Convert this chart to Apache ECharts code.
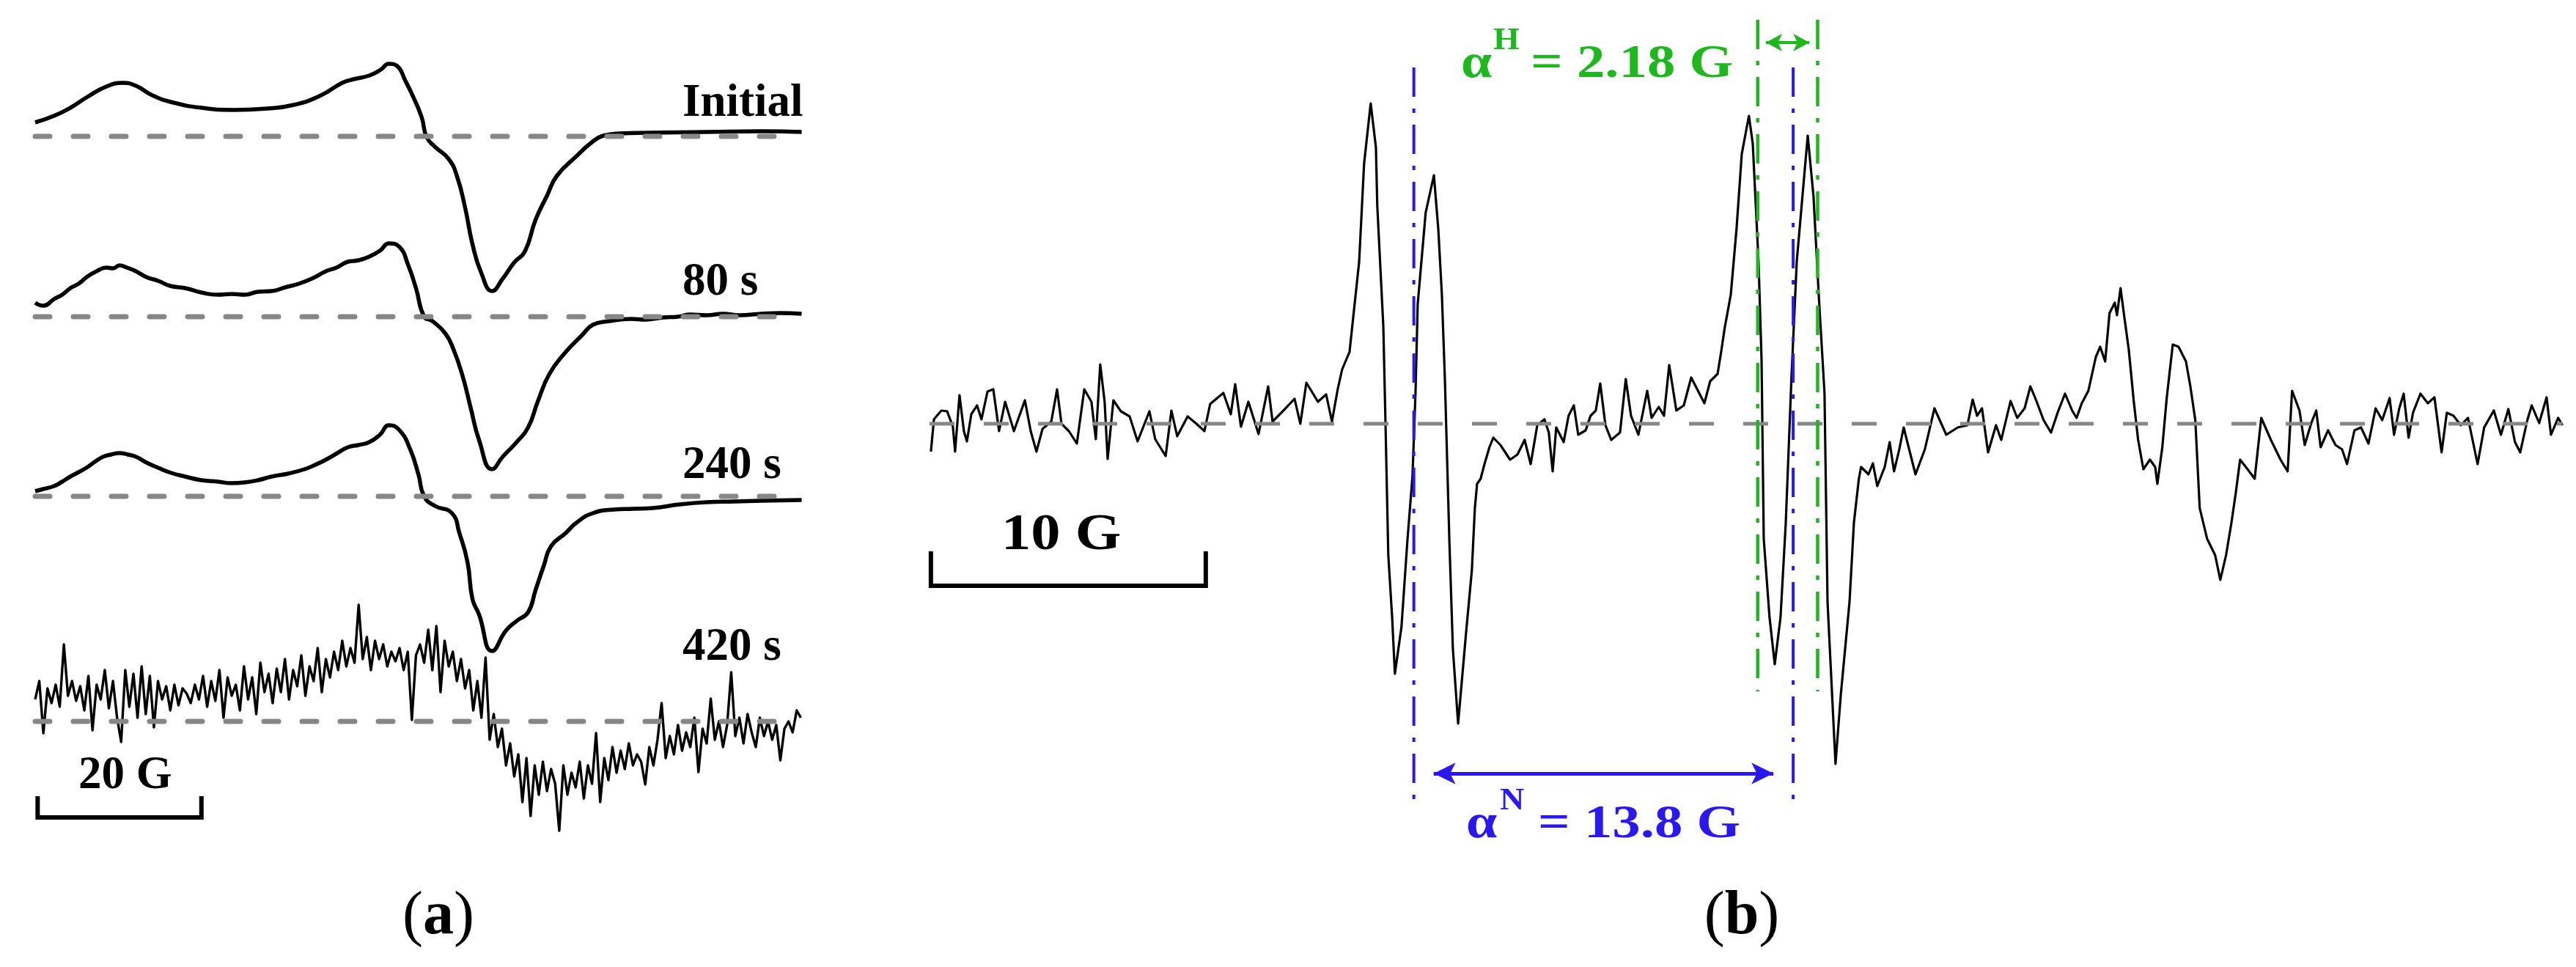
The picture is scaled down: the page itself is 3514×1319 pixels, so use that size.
<!DOCTYPE html>
<html><head><meta charset="utf-8">
<style>html,body{margin:0;padding:0;background:#fff}#c{width:3514px;height:1319px}</style>
<script src="https://cdn.jsdelivr.net/npm/echarts@6/dist/echarts.min.js"></script>
</head><body><div id="c"></div>
<script>
// ---- data (field in G, signal in a.u. relative to each trace's baseline) ----
const traceLabels = ['Initial', '80 s', '240 s', '420 s'];

const initialTrace = [[0,0.19],[2.3,0.28],[4.3,0.39],[6.4,0.54],[8.7,0.68],[10.7,0.73],[12.3,0.69],[14.3,0.56],[16.9,0.46],[20.3,0.39],[24.3,0.36],[28.3,0.38],[31.6,0.43],[34.9,0.56],[37.5,0.73],[38.9,0.78],[40.8,0.83],[42.2,0.91],[43.2,0.99],[44.2,0.96],[45.2,0.76],[46.2,0.53],[47.2,0.26],[47.8,-0.01],[48.8,-0.14],[50.5,-0.31],[51.5,-0.54],[52.5,-0.97],[53.4,-1.47],[54.5,-1.87],[55.8,-2.11],[57.1,-1.94],[58.5,-1.72],[59.8,-1.57],[61.1,-1.14],[62.5,-0.81],[63.7,-0.54],[66.1,-0.27],[68.1,-0.07],[69.4,0.01],[71.4,0.04],[75.4,0.05],[82.0,0.06],[88.7,0.07],[93.6,0.06]];

const trace80 = [[0,0.19],[1.0,0.15],[2.3,0.24],[3.3,0.30],[4.3,0.39],[5.3,0.45],[6.4,0.55],[7.5,0.62],[8.7,0.67],[9.5,0.66],[10.3,0.70],[11.2,0.67],[12.3,0.62],[13.6,0.54],[15.0,0.49],[16.5,0.42],[18.3,0.39],[20.3,0.33],[22.3,0.30],[24.0,0.31],[25.6,0.30],[27.2,0.34],[28.9,0.35],[30.5,0.40],[32.2,0.45],[33.8,0.52],[35.5,0.62],[36.8,0.67],[38.2,0.75],[39.5,0.77],[40.8,0.82],[42.1,0.90],[43.2,1.00],[44.5,0.95],[45.5,0.72],[46.5,0.39],[47.5,0.00],[48.5,-0.06],[50.1,-0.23],[51.1,-0.45],[52.2,-0.81],[53.2,-1.25],[54.2,-1.68],[55.8,-2.08],[57.1,-1.91],[58.8,-1.71],[60.2,-1.51],[61.4,-1.15],[62.8,-0.78],[64.8,-0.48],[66.8,-0.25],[68.1,-0.11],[70.1,-0.06],[72.8,-0.03],[74.5,-0.04],[76.7,-0.01],[78.5,0.00],[80.0,0.03],[82.0,0.02],[84.0,0.04],[86.0,0.02],[88.7,0.04],[91.0,0.05],[93.6,0.04]];

const trace240 = [[0,0.07],[1.0,0.10],[2.3,0.14],[3.3,0.20],[4.3,0.27],[5.3,0.33],[6.4,0.40],[7.4,0.48],[8.3,0.54],[9.3,0.57],[10.3,0.59],[11.3,0.57],[12.3,0.54],[13.6,0.46],[15.0,0.39],[16.6,0.32],[18.3,0.27],[20.3,0.22],[22.3,0.20],[24.0,0.18],[25.6,0.19],[27.2,0.22],[28.9,0.27],[30.9,0.31],[32.9,0.37],[34.2,0.43],[35.5,0.50],[36.9,0.59],[38.2,0.67],[39.5,0.70],[40.8,0.74],[42.1,0.84],[43.2,0.97],[44.5,0.90],[45.8,0.64],[46.8,0.30],[47.5,0.00],[48.8,-0.13],[50.9,-0.23],[51.8,-0.50],[52.8,-0.90],[53.4,-1.40],[54.2,-1.61],[55.8,-2.11],[57.5,-1.83],[58.8,-1.70],[60.2,-1.58],[61.1,-1.28],[62.1,-0.95],[63.0,-0.68],[64.8,-0.50],[66.1,-0.36],[68.1,-0.23],[70.7,-0.18],[73.0,-0.17],[75.4,-0.16],[78.7,-0.11],[82.0,-0.08],[85.5,-0.07],[88.7,-0.06],[93.6,-0.05]];

const trace420 = [[0,0.30],[0.5,0.55],[1,-0.16],[1.5,0.45],[2,0.25],[2.5,0.50],[3,0.20],[3.5,1.05],[4,0.35],[4.5,0.55],[5,0.28],[5.5,0.48],[6,0.15],[6.5,0.62],[7,-0.12],[7.5,0.50],[8,0.30],[8.5,0.70],[9,0.18],[9.5,0.55],[10,0.05],[10.5,-0.28],[11,0.70],[11.5,0.20],[12,0.65],[12.5,0.05],[13,0.75],[13.5,0.10],[14,0.62],[14.5,-0.08],[15,0.55],[15.5,0.30],[16,0.48],[16.5,0.15],[17,0.50],[17.5,0.22],[18,0.45],[18.5,0.38],[19,0.25],[19.5,0.50],[20,0.30],[20.5,0.62],[21,0.20],[21.5,0.55],[22,0.28],[22.5,0.70],[23,0.05],[23.5,0.60],[24,0.35],[24.5,0.50],[25,0.15],[25.5,0.75],[26,0.30],[26.5,0.60],[27,0.10],[27.5,0.80],[28,0.40],[28.5,0.65],[29,0.25],[29.5,0.72],[30,0.40],[30.5,0.85],[31,0.30],[31.5,0.70],[32,0.48],[32.5,0.90],[33,0.35],[33.5,0.75],[34,0.55],[34.5,1.00],[35,0.40],[35.5,0.85],[36,0.60],[36.5,0.95],[37,0.70],[37.5,1.10],[38,0.75],[38.5,1.00],[39,0.80],[39.5,1.59],[40,0.85],[40.5,1.15],[41,0.70],[41.5,1.10],[42,0.85],[42.5,1.05],[43,0.75],[43.5,0.95],[44,0.82],[44.5,1.00],[45,0.70],[45.5,0.95],[46,0.02],[46.5,0.90],[47,1.05],[47.5,0.80],[48,1.25],[48.5,0.70],[49,1.30],[49.5,0.40],[50,1.10],[50.5,0.75],[51,0.95],[51.5,0.55],[52,0.85],[52.5,0.45],[53,0.70],[53.5,0.15],[54,0.55],[54.5,0.05],[55,0.87],[55.5,-0.25],[56,0.10],[56.5,-0.35],[57,-0.10],[57.5,-0.60],[58,-0.30],[58.5,-0.75],[59,-0.45],[59.5,-1.10],[60,-0.50],[60.5,-1.29],[61,-0.60],[61.5,-1.00],[62,-0.55],[62.5,-0.95],[63,-0.65],[63.5,-0.85],[64,-1.49],[64.5,-0.60],[65,-1.00],[65.5,-0.70],[66,-0.90],[66.5,-0.55],[67,-1.05],[67.5,-0.60],[68,-0.85],[68.5,-0.16],[69,-1.10],[69.5,-0.50],[70,-0.80],[70.5,-0.35],[71,-0.70],[71.5,-0.40],[72,-0.65],[72.5,-0.30],[73,-0.60],[73.5,-0.45],[74,-0.55],[74.5,-0.86],[75,-0.35],[75.5,-0.60],[76,-0.25],[76.5,0.25],[77,-0.50],[77.5,-0.20],[78,-0.45],[78.5,-0.05],[79,-0.40],[79.5,-0.15],[80,-0.35],[80.5,0.05],[81,-0.69],[81.5,-0.10],[82,-0.30],[82.5,0.31],[83,-0.25],[83.5,0.00],[84,-0.35],[84.5,-0.05],[85,0.67],[85.5,-0.20],[86,0.05],[86.5,-0.30],[87,0.10],[87.5,-0.15],[88,-0.35],[88.5,0.05],[89,-0.20],[89.5,0.00],[90,-0.25],[90.5,-0.05],[91,-0.53],[91.5,-0.10],[92,0.00],[92.5,-0.15],[93,0.15],[93.5,0.05]];

const spectrumB = [[0.05,-0.38],[0.16,0.06],[0.43,0.18],[0.64,0.17],[0.85,-0.04],[0.93,-0.38],[1.09,0.39],[1.25,-0.10],[1.36,-0.24],[1.52,0.13],[1.73,0.25],[1.89,0.06],[2.11,0.44],[2.32,0.47],[2.53,-0.10],[2.75,0.30],[3.07,-0.10],[3.47,0.32],[3.68,-0.10],[3.89,-0.38],[4.11,-0.07],[4.43,0.03],[4.64,0.47],[4.80,0.00],[5.07,-0.10],[5.36,-0.27],[5.63,0.47],[5.89,0.30],[6.05,-0.21],[6.21,0.81],[6.37,0.30],[6.48,-0.48],[6.69,0.32],[6.96,0.17],[7.28,0.10],[7.57,-0.24],[8.00,0.17],[8.21,-0.21],[8.59,-0.44],[8.80,0.18],[9.01,-0.17],[9.39,0.10],[9.71,0.00],[10.00,-0.10],[10.21,0.27],[10.69,0.42],[10.96,0.13],[11.12,0.54],[11.33,-0.04],[11.60,0.30],[11.97,-0.14],[12.32,0.51],[12.48,0.03],[12.85,0.17],[13.28,0.34],[13.49,0.00],[13.71,0.56],[14.13,0.30],[14.43,0.40],[14.64,0.03],[14.85,0.47],[15.01,0.74],[15.28,0.98],[15.63,2.21],[15.81,3.55],[16.05,4.37],[16.24,3.77],[16.29,2.97],[16.51,1.32],[16.59,-0.02],[16.69,-1.79],[16.83,-2.64],[16.93,-3.41],[17.17,-2.77],[17.39,-1.57],[17.57,-0.72],[17.68,0.42],[17.76,1.63],[18.05,2.88],[18.35,3.39],[18.51,2.65],[18.64,1.76],[18.75,0.60],[18.91,-1.57],[19.04,-3.07],[19.23,-4.09],[19.52,-2.85],[19.73,-2.00],[19.84,-1.15],[19.92,-0.82],[20.05,-0.75],[20.19,-0.55],[20.37,-0.32],[20.51,-0.19],[20.77,-0.29],[21.12,-0.49],[21.39,-0.42],[21.65,-0.22],[21.87,-0.55],[22.11,-0.02],[22.37,0.06],[22.53,-0.12],[22.67,-0.65],[22.80,-0.05],[23.07,-0.25],[23.25,0.11],[23.44,0.25],[23.60,-0.15],[23.87,-0.09],[24.05,0.11],[24.24,0.18],[24.40,0.55],[24.59,-0.02],[24.80,-0.22],[25.12,-0.12],[25.33,0.61],[25.52,0.11],[25.79,-0.15],[26.11,0.45],[26.27,0.08],[26.53,0.23],[26.72,0.11],[26.91,0.80],[27.17,0.18],[27.44,0.25],[27.71,0.63],[28.19,0.28],[28.40,0.58],[28.67,0.68],[28.80,0.98],[28.93,1.31],[29.15,1.76],[29.36,2.66],[29.55,3.68],[29.81,4.20],[29.95,3.82],[30.16,2.21],[30.27,0.87],[30.35,-1.57],[30.56,-2.64],[30.75,-3.28],[30.96,-2.64],[31.15,-1.36],[31.36,0.65],[31.55,2.21],[31.95,3.93],[32.16,3.10],[32.35,1.76],[32.56,0.42],[32.67,-2.43],[32.96,-4.64],[33.15,-3.71],[33.47,-2.43],[33.63,-1.35],[33.81,-0.75],[33.89,-0.59],[34.16,-0.69],[34.32,-0.54],[34.48,-0.85],[34.75,-0.59],[34.93,-0.25],[35.09,-0.65],[35.28,-0.35],[35.44,-0.05],[35.60,-0.29],[35.87,-0.69],[36.21,-0.35],[36.56,0.21],[36.99,-0.15],[37.41,-0.05],[37.76,-0.02],[37.95,0.33],[38.11,0.11],[38.29,0.21],[38.51,-0.39],[38.80,-0.02],[38.99,-0.22],[39.33,0.31],[39.57,0.08],[39.84,0.21],[40.05,0.51],[40.27,0.31],[40.53,0.05],[40.80,-0.12],[41.04,0.15],[41.31,0.41],[41.57,0.18],[41.73,0.08],[41.92,0.28],[42.16,0.45],[42.43,0.91],[42.59,1.05],[42.77,0.85],[42.93,1.51],[43.12,1.65],[43.20,1.48],[43.33,1.85],[43.47,1.45],[43.63,1.01],[43.81,0.31],[43.97,-0.22],[44.16,-0.62],[44.40,-0.49],[44.59,-0.59],[44.67,-0.82],[44.85,-0.32],[45.01,0.35],[45.23,1.08],[45.44,1.05],[45.71,0.85],[45.87,0.51],[46.05,0.05],[46.21,-1.15],[46.48,-1.57],[46.77,-1.79],[46.96,-2.13],[47.17,-1.79],[47.36,-1.36],[47.52,-0.95],[47.68,-0.49],[47.95,-0.62],[48.21,-0.75],[48.45,0.08],[48.80,-0.22],[49.15,-0.49],[49.41,-0.65],[49.57,0.45],[49.84,0.18],[50.03,-0.29],[50.27,0.01],[50.45,0.18],[50.61,-0.32],[50.88,-0.09],[51.15,-0.29],[51.39,-0.35],[51.57,-0.55],[51.84,-0.09],[52.08,-0.05],[52.35,-0.27],[52.61,0.21],[52.85,0.05],[53.12,0.35],[53.28,-0.15],[53.47,0.21],[53.63,0.41],[53.81,-0.19],[53.97,0.15],[54.24,0.41],[54.51,0.28],[54.75,0.36],[55.01,-0.39],[55.20,0.15],[55.44,0.11],[55.71,-0.02],[55.97,0.08],[56.32,-0.55],[56.56,-0.05],[56.91,0.18],[57.17,-0.15],[57.44,0.20],[57.68,-0.25],[57.87,-0.39],[58.13,0.05],[58.29,0.25],[58.56,0.01],[58.83,0.36],[58.99,-0.15],[59.25,0.08],[59.41,-0.02]];

// hyperfine splittings (G) and line positions for panel (b)
const splitN = 13.8;
const splitH = 2.18;
const lineN1 = 17.62;
const lineH1 = 30.13;
const scaleBarA = 20;   // G
const scaleBarB = 10;   // G

// ---- layout ----
const baseA = [186, 432, 677, 984];
const tracesA = [initialTrace, trace80, trace240, trace420];
const BLUE = '#2a18f2', GREEN = '#1cb81c', GRAY = '#878787';
const SERIF = '"Liberation Serif", "Times New Roman", serif';

const grids = baseA.map(b => ({left: 48, width: 1050, top: b - 150, height: 400}));
grids.push({left: 1268, width: 2231, top: 18, height: 1120});

const xAxes = grids.map((g, i) => ({gridIndex: i, type: 'value', min: 0, max: i < 4 ? 94 : 59.5, show: false}));
const yAxes = grids.map((g, i) => ({gridIndex: i, type: 'value', min: i < 4 ? -2.5 : -5.6, max: i < 4 ? 1.5 : 5.6, show: false}));

const series = [];
tracesA.forEach((d, i) => {
  series.push({type: 'line', xAxisIndex: i, yAxisIndex: i, data: d, symbol: 'none', clip: false,
    smooth: i < 3 ? 0.5 : false, z: 2,
    lineStyle: {color: '#000', width: i < 3 ? 5.5 : 3.4, join: 'round'}});
  series.push({type: 'line', xAxisIndex: i, yAxisIndex: i, data: [[0, 0], [91.4, 0]], symbol: 'none', clip: false, z: 3,
    lineStyle: {color: GRAY, width: 7, type: [20, 32], cap: 'round'}});
});
// scale bar (a)
series.push({type: 'line', xAxisIndex: 3, yAxisIndex: 3, symbol: 'none', clip: false, z: 3,
  data: [[0.3, -1.02], [0.3, -1.31], [0.3 + scaleBarA, -1.31], [0.3 + scaleBarA, -1.02]],
  lineStyle: {color: '#000', width: 6, join: 'miter'}});

// panel (b)
series.push({type: 'line', xAxisIndex: 4, yAxisIndex: 4, data: spectrumB, symbol: 'none', clip: false, z: 2,
  lineStyle: {color: '#000', width: 3.2, join: 'round'}});
series.push({type: 'line', xAxisIndex: 4, yAxisIndex: 4, data: [[0, 0], [59.4, 0]], symbol: 'none', clip: false, z: 3,
  lineStyle: {color: GRAY, width: 5, type: [34, 40]}});
series.push({type: 'line', xAxisIndex: 4, yAxisIndex: 4, symbol: 'none', clip: false, z: 3,
  data: [[0.05, -1.74], [0.05, -2.21], [0.05 + scaleBarB, -2.21], [0.05 + scaleBarB, -1.74]],
  lineStyle: {color: '#000', width: 6, join: 'miter'}});
[lineN1, lineN1 + splitN].forEach((x, k) => {
  series.push({type: 'line', xAxisIndex: 4, yAxisIndex: 4, symbol: 'none', clip: false, z: 4,
    data: [[x, 4.86], [x, -5.22]], lineStyle: {color: BLUE, width: 4, type: [40, 16, 6, 16]},
    markLine: k ? undefined : {silent: true, symbol: ['arrow', 'arrow'], symbolSize: [22, 30], label: {show: false},
      lineStyle: {color: BLUE, width: 5, type: 'solid'},
      data: [[{coord: [lineN1 + 0.72, -4.77]}, {coord: [lineN1 + splitN - 0.72, -4.77]}]]}});
});
[lineH1, lineH1 + splitH].forEach((x, k) => {
  series.push({type: 'line', xAxisIndex: 4, yAxisIndex: 4, symbol: 'none', clip: false, z: 4,
    data: [[x, 5.51], [x, -3.65]], lineStyle: {color: GREEN, width: 4.5, type: [40, 16, 6, 16]},
    markLine: k ? undefined : {silent: true, symbol: ['arrow', 'arrow'], symbolSize: [18, 22], label: {show: false},
      lineStyle: {color: GREEN, width: 4, type: 'solid'},
      data: [[{coord: [lineH1 + 0.3, 5.2]}, {coord: [lineH1 + splitH - 0.3, 5.2]}]]}});
});

// ---- texts ----
function txt(x, base, text, size, color, bold, sx) {
  return {type: 'text', x: x, y: base - 0.34 * size, z: 10, scaleX: sx || 1,
    style: {text: text, fill: color || '#000', font: (bold ? 'bold ' : '') + size + 'px ' + SERIF,
      align: 'left', verticalAlign: 'middle'}};
}
const labelBase = [163, 407, 657, 905];
const graphics = traceLabels.map((t, i) => txt(931, labelBase[i], t, 63, '#000', true));
graphics.push(txt(107, 1080, scaleBarA + ' G', 63, '#000', true));
graphics.push(txt(1366, 755, scaleBarB + ' G', 70, '#000', true, 1.15));
graphics.push(txt(1993, 110, 'α', 66, GREEN, true, 1.15));
graphics.push(txt(2037, 70, 'H', 42, GREEN, true, 1.1));
graphics.push(txt(2088, 110, '= ' + splitH.toFixed(2) + ' G', 64, GREEN, true, 1.2));
graphics.push(txt(2000, 1147, 'α', 66, BLUE, true, 1.15));
graphics.push(txt(2046, 1107, 'N', 42, BLUE, true, 1.1));
graphics.push(txt(2098, 1147, '= ' + splitN.toFixed(1) + ' G', 64, BLUE, true, 1.2));
['a', 'b'].forEach((p, i) => {
  graphics.push({type: 'text', x: i ? 2376 : 598, y: 1280 - 0.34 * 84, z: 10,
    style: {text: '{p|(}{b|' + p + '}{p|)}', align: 'center', verticalAlign: 'middle',
      rich: {p: {font: '84px ' + SERIF, fill: '#000'}, b: {font: 'bold 84px ' + SERIF, fill: '#000'}}}});
});

const chart = echarts.init(document.getElementById('c'), null, {renderer: 'canvas'});
chart.setOption({
  animation: false, backgroundColor: '#fff',
  grid: grids, xAxis: xAxes, yAxis: yAxes, series: series, graphic: graphics
});
</script></body></html>
